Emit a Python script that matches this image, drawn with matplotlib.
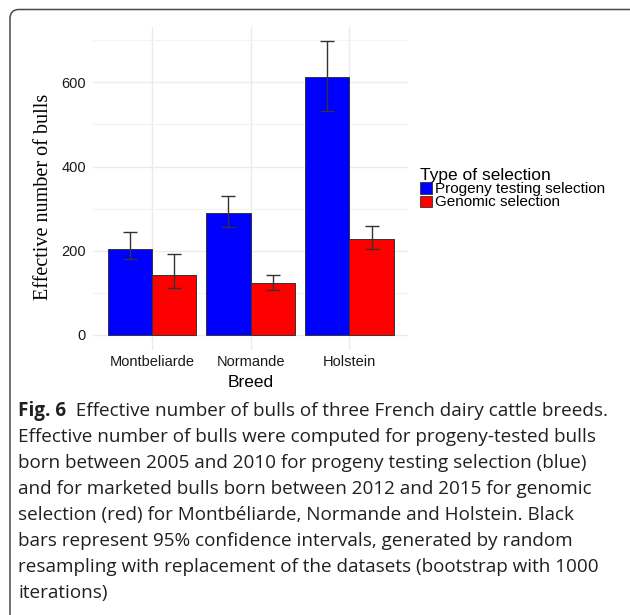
import matplotlib
matplotlib.use("Agg")
import matplotlib.pyplot as plt
import numpy as np
from matplotlib.patches import FancyBboxPatch, Patch
from matplotlib.transforms import IdentityTransform

breeds = ["Montbeliarde", "Normande", "Holstein"]
series_names = ["Progeny testing selection", "Genomic selection"]
series_colors = ["#0000FF", "#FF0000"]
progeny_ne = [205, 290, 613]
progeny_lo = [180, 257, 532]
progeny_hi = [244, 330, 697]
genomic_ne = [143, 124, 228]
genomic_lo = [111, 107, 203]
genomic_hi = [192, 143, 258]

caption_head = "Fig. 6"
caption_lines = [
    "Effective number of bulls of three French dairy cattle breeds.",
    "Effective number of bulls were computed for progeny-tested bulls",
    "born between 2005 and 2010 for progeny testing selection (blue)",
    "and for marketed bulls born between 2012 and 2015 for genomic",
    "selection (red) for Montbéliarde, Normande and Holstein. Black",
    "bars represent 95% confidence intervals, generated by random",
    "resampling with replacement of the datasets (bootstrap with 1000",
    "iterations)",
]

W, H = 630, 615
fig = plt.figure(figsize=(W / 100, H / 100), dpi=100)

# rounded frame around the figure (pixel coords)
frame = FancyBboxPatch((10, -20), 650, H - 9.5 + 20,
                       boxstyle="round,pad=0,rounding_size=9",
                       transform=IdentityTransform(), fill=False,
                       edgecolor="#4a4a4a", linewidth=1.1)
fig.patches.append(frame)

# panel: 92.8..408.5 px wide, 26.7..349.7 px from top
ax = fig.add_axes([92.8 / W, (H - 349.7) / H, 315.7 / W, 323 / H])
x = np.arange(1, len(breeds) + 1)
bw = 0.45
ne = [progeny_ne, genomic_ne]
lo = [progeny_lo, genomic_lo]
hi = [progeny_hi, genomic_hi]
for i in range(2):
    xs = x + (i - 0.5) * bw
    v = np.array(ne[i])
    ax.bar(xs, v, width=bw, color=series_colors[i], edgecolor="#333333",
           linewidth=0.7, label=series_names[i], zorder=2)
    err = [v - np.array(lo[i]), np.array(hi[i]) - v]
    ax.errorbar(xs, v, yerr=err, fmt="none", ecolor="#333333",
                elinewidth=1.0, capsize=4.8, capthick=1.0, zorder=3)

ax.set_xlim(0.4, 3.6)
ax.set_ylim(-35, 732)
ax.set_yticks([0, 200, 400, 600])
ax.set_yticks([100, 300, 500, 700], minor=True)
ax.set_xticks(x)
ax.set_xticklabels(breeds)
ax.grid(True, which="major", color="#ebebeb", linewidth=1.0, zorder=0)
ax.grid(True, which="minor", axis="y", color="#f3f3f3", linewidth=0.8, zorder=0)
ax.set_axisbelow(True)
for s in ax.spines.values():
    s.set_visible(False)
ax.tick_params(which="both", length=0)
ax.tick_params(axis="y", pad=5, labelsize=10.5, labelcolor="#1a1a1a")
ax.tick_params(axis="x", pad=4, labelsize=10.5, labelcolor="#1a1a1a")
for lab in ax.get_xticklabels() + ax.get_yticklabels():
    lab.set_family("Liberation Sans")

ax.set_xlabel("Breed", family="Liberation Sans", fontsize=12.5, labelpad=4)
fig.text(44 / W, 1 - 197 / H, "Effective number of bulls", rotation=90,
         family="Liberation Serif", fontsize=14.5, ha="center", va="center")

leg = ax.legend(handles=[Patch(facecolor=c, edgecolor="#333333", linewidth=0.6)
                         for c in series_colors],
                labels=series_names, title="Type of selection",
                loc="upper left", bbox_to_anchor=(420 / W, 1 - 168 / H),
                bbox_transform=fig.transFigure, frameon=False,
                prop={"family": "Liberation Sans", "size": 11},
                title_fontproperties={"family": "Liberation Sans", "size": 12.5},
                handlelength=0.8, handleheight=0.75, handletextpad=0.15,
                labelspacing=-0.05, borderpad=0, borderaxespad=0)
leg._legend_box.align = "left"

# caption
cap_x = 18
y0 = 411
step = 26
cap_kw = dict(family="Open Sans", fontsize=13.6, color="#231f20", va="center")
head = fig.text(cap_x / W, 1 - y0 / H, caption_head, fontweight="bold", **cap_kw)
ax.annotate("  " + caption_lines[0], xy=(1, 0.5), xycoords=head,
            ha="left", annotation_clip=False, **cap_kw)
for k, line in enumerate(caption_lines[1:], start=1):
    fig.text(cap_x / W, 1 - (y0 + k * step) / H, line, **cap_kw)

fig.savefig("out.png", dpi=100, facecolor="white")
